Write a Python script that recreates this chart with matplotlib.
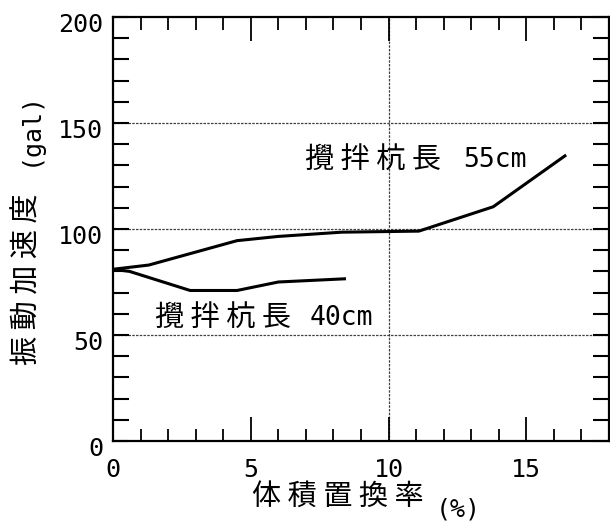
import matplotlib
matplotlib.use("Agg")
import matplotlib.pyplot as plt
import matplotlib.transforms as mtransforms
from matplotlib.ticker import MultipleLocator

# データ
x_55 = [0, 1.3, 4.5, 6.0, 8.3, 11.1, 13.8, 16.4]
y_55 = [81, 83, 94.5, 96.5, 98.5, 99, 110.5, 134.5]
x_40 = [0, 0.6, 2.8, 4.5, 6.0, 8.4]
y_40 = [81, 80, 71, 71, 75, 76.5]
label_55 = "攪 拌 杭 長"
label_55_len = "55cm"
label_40 = "攪 拌 杭 長"
label_40_len = "40cm"
xticks = [0, 5, 10, 15]
yticks = [0, 50, 100, 150, 200]

mono = ["DejaVu Sans Mono", "Noto Sans CJK JP"]
cjk = ["Noto Sans CJK JP", "DejaVu Sans"]

fig = plt.figure(figsize=(6.1, 5.25), dpi=100)
ax = fig.add_axes([113 / 610, 84 / 525, 496 / 610, 424 / 525])

ax.plot(x_55, y_55, color="black", lw=2.2)
ax.plot(x_40, y_40, color="black", lw=2.2)

ax.set_xlim(0, 18)
ax.set_ylim(0, 200)

# グリッド（点線）
for yv in [50, 100, 150]:
    ax.axhline(yv, color="0.25", lw=0.9, ls=(0, (2, 1)), zorder=0)
ax.axvline(10, color="0.25", lw=0.9, ls=(0, (2, 1)), zorder=0)

for s in ax.spines.values():
    s.set_linewidth(1.6)

ax.set_xticks(xticks)
ax.set_yticks(yticks)
ax.xaxis.set_minor_locator(MultipleLocator(1))
ax.yaxis.set_minor_locator(MultipleLocator(10))
ax.tick_params(axis="x", which="major", direction="in", length=17, width=1.3,
               top=True, pad=12)
ax.tick_params(axis="x", which="minor", direction="in", length=9, width=1.3, top=True)
ax.tick_params(axis="y", which="both", direction="in", length=11.5, width=1.5,
               right=True, pad=7)

for lab in ax.get_xticklabels() + ax.get_yticklabels():
    lab.set_fontfamily(mono)
    lab.set_fontsize(18)
off = mtransforms.ScaledTranslation(0, -5 / 100, fig.dpi_scale_trans)
for lab in ax.get_yticklabels():
    lab.set_transform(lab.get_transform() + off)

# 注記（ピクセル位置から換算）
px = 496 / 18
py = 424 / 200
ax.text((305 - 113) / px, (441 - 160) / py, label_55,
        family=cjk, fontsize=21, va="center", ha="left")
ax.text((463 - 113) / px, (441 - 160) / py, label_55_len,
        family=mono, fontsize=19, va="center", ha="left")
ax.text((155 - 113) / px, (441 - 318) / py, label_40,
        family=cjk, fontsize=21, va="center", ha="left")
ax.text((310 - 113) / px, (441 - 318) / py, label_40_len,
        family=mono, fontsize=19, va="center", ha="left")

# 軸ラベル
fig.text(338 / 610, 1 - 497 / 525, "体 積 置 換 率", family=cjk, fontsize=21,
         ha="center", va="center")
fig.text(458 / 610, 1 - 509 / 525, "(%)", family=mono, fontsize=18,
         ha="center", va="center")
fig.text(28 / 610, 1 - 279 / 525, "振 動 加 速 度", family=cjk, fontsize=21,
         ha="center", va="center", rotation=90)
fig.text(30 / 610, 1 - 128 / 525, "(gal)", family=mono, fontsize=18,
         ha="center", va="center", rotation=90)

fig.savefig("out.png", dpi=100)
